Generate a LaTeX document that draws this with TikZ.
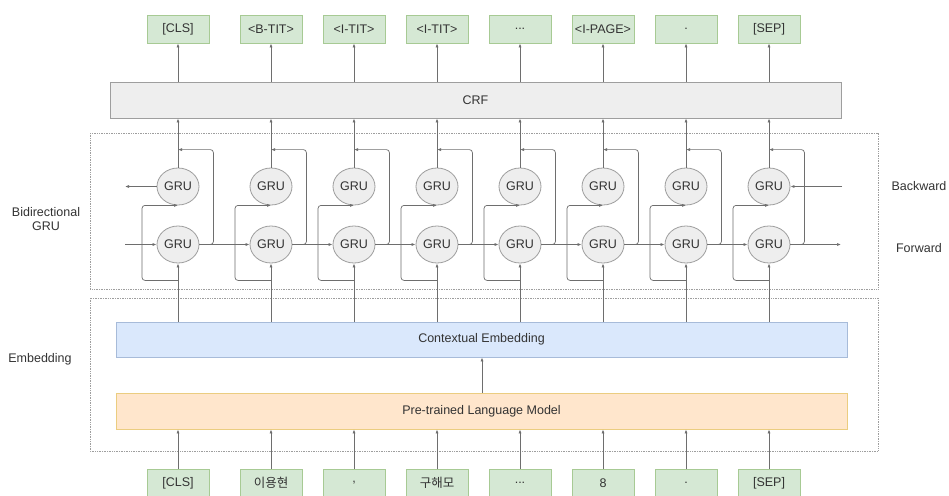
\documentclass[tikz,border=0pt]{standalone}
\usepackage{fontspec}
\setmainfont{Liberation Sans}
\newfontfamily\kr{Noto Sans CJK KR}
\usetikzlibrary{arrows.meta,shapes.geometric,calc}
\definecolor{lblfill}{HTML}{D5E8D4}
\definecolor{lbldraw}{HTML}{82B366}
\definecolor{grayfill}{HTML}{EEEEEE}
\definecolor{graydraw}{HTML}{9E9E9E}
\definecolor{cefill}{HTML}{DAE8FC}
\definecolor{cedraw}{HTML}{6C8EBF}
\definecolor{plmfill}{HTML}{FFE6CC}
\definecolor{plmdraw}{HTML}{D79B00}
\definecolor{txt}{HTML}{333333}
\definecolor{wire}{HTML}{6E6E6E}
\tikzset{
  lbl/.style={rectangle, fill=lblfill, draw=lbldraw!70, line width=0.8pt, minimum width=62pt, minimum height=28pt, inner sep=0pt, text=txt, font=\fontsize{12.5}{14}\selectfont},
  gru/.style={ellipse, fill=grayfill, draw=graydraw, line width=0.8pt, minimum width=42pt, minimum height=37pt, inner sep=0pt, text=txt, font=\fontsize{12.5}{14}\selectfont},
  wide/.style={rectangle, line width=0.8pt, minimum width=731pt, inner sep=0pt, text=txt, font=\fontsize{12.5}{14}\selectfont},
  arr/.style={-{Latex[length=4pt,width=3pt]}, draw=wire, line width=0.7pt},
  group/.style={draw=graydraw, densely dotted, line width=0.7pt},
  side/.style={text=txt, font=\fontsize{12.5}{14.5}\selectfont, align=center, inner sep=0pt},
}
\begin{document}
\begin{tikzpicture}[x=1pt,y=-1pt]
\useasboundingbox (0,0) rectangle (949,495);
\fill[white] (0,0) rectangle (949,495);
% group boxes
\draw[group] (90,133) rectangle (878,289);
\draw[group] (90,298) rectangle (878,451);
% wide boxes
\node[wide, fill=grayfill, draw=graydraw, minimum height=36pt] (crf) at (475.5,100) {CRF};
\node[wide, fill=cefill, draw=cedraw!60, minimum height=35pt] (ce) at (481.5,339.5) {Contextual Embedding};
\node[wide, fill=plmfill, draw=plmdraw!50, minimum height=36pt] (plm) at (481.5,411) {Pre-trained Language Model};
% side labels
\node[side] (lb1) at (46,219) {Bidirectional\\GRU};
\node[side] (lb2) at (40,359) {Embedding};
\node[side] (lb3) at (919,186.5) {Backward};
\node[side] (lb4) at (919,248) {Forward};
% columns
\foreach \c/\tt/\bt [count=\i] in {178/{[CLS]}/{[CLS]}, 271/{<B-TIT>}/{\kr 이용현}, 354/{<I-TIT>}/{,}, 437/{<I-TIT>}/{\kr 구해모}, 520/{...}/{...}, 603/{<I-PAGE>}/{8}, 686/{.}/{.}, 769/{[SEP]}/{[SEP]}}{
  \node[lbl] (t\i) at (\c,29) {\tt};
  \node[lbl] (b\i) at (\c,483) {\bt};
  \node[gru] (k\i) at (\c,186.5) {GRU};
  \node[gru] (f\i) at (\c,244.5) {GRU};
}
\coordinate (fin) at (125,244.5);
\coordinate (fout) at (841,244.5);
\coordinate (bout) at (125,186.5);
\coordinate (bin) at (842,186.5);
\coordinate (mid) at (482,370);
\foreach \i in {1,...,8}{
  \draw[arr] (crf.north -| t\i) -- (t\i.south);
  \draw[arr] (k\i.north) -- (crf.south -| k\i);
  \draw[arr] (ce.north -| f\i) -- (f\i.south);
  \draw[arr] (b\i.north) -- (plm.south -| b\i);
  \draw[arr, rounded corners=3pt] (f\i.east) -- ++(14,0) |- ($(k\i.north)+(0,-18)$);
  \draw[arr, rounded corners=3pt] ($(f\i.south)+(0,17)$) -- ++(-36,0) |- (k\i.south);
}
\foreach \i [evaluate=\i as \j using int(\i+1)] in {1,...,7}{
  \draw[arr] (f\i.east) -- (f\j.west);
}
\draw[arr] (fin) -- (f1.west);
\draw[arr] (f8.east) -- (fout);
\draw[arr] (k1.west) -- (bout);
\draw[arr] (bin) -- (k8.east);
\draw[arr] (plm.north -| mid) -- (ce.south -| mid);
\end{tikzpicture}
\end{document}
